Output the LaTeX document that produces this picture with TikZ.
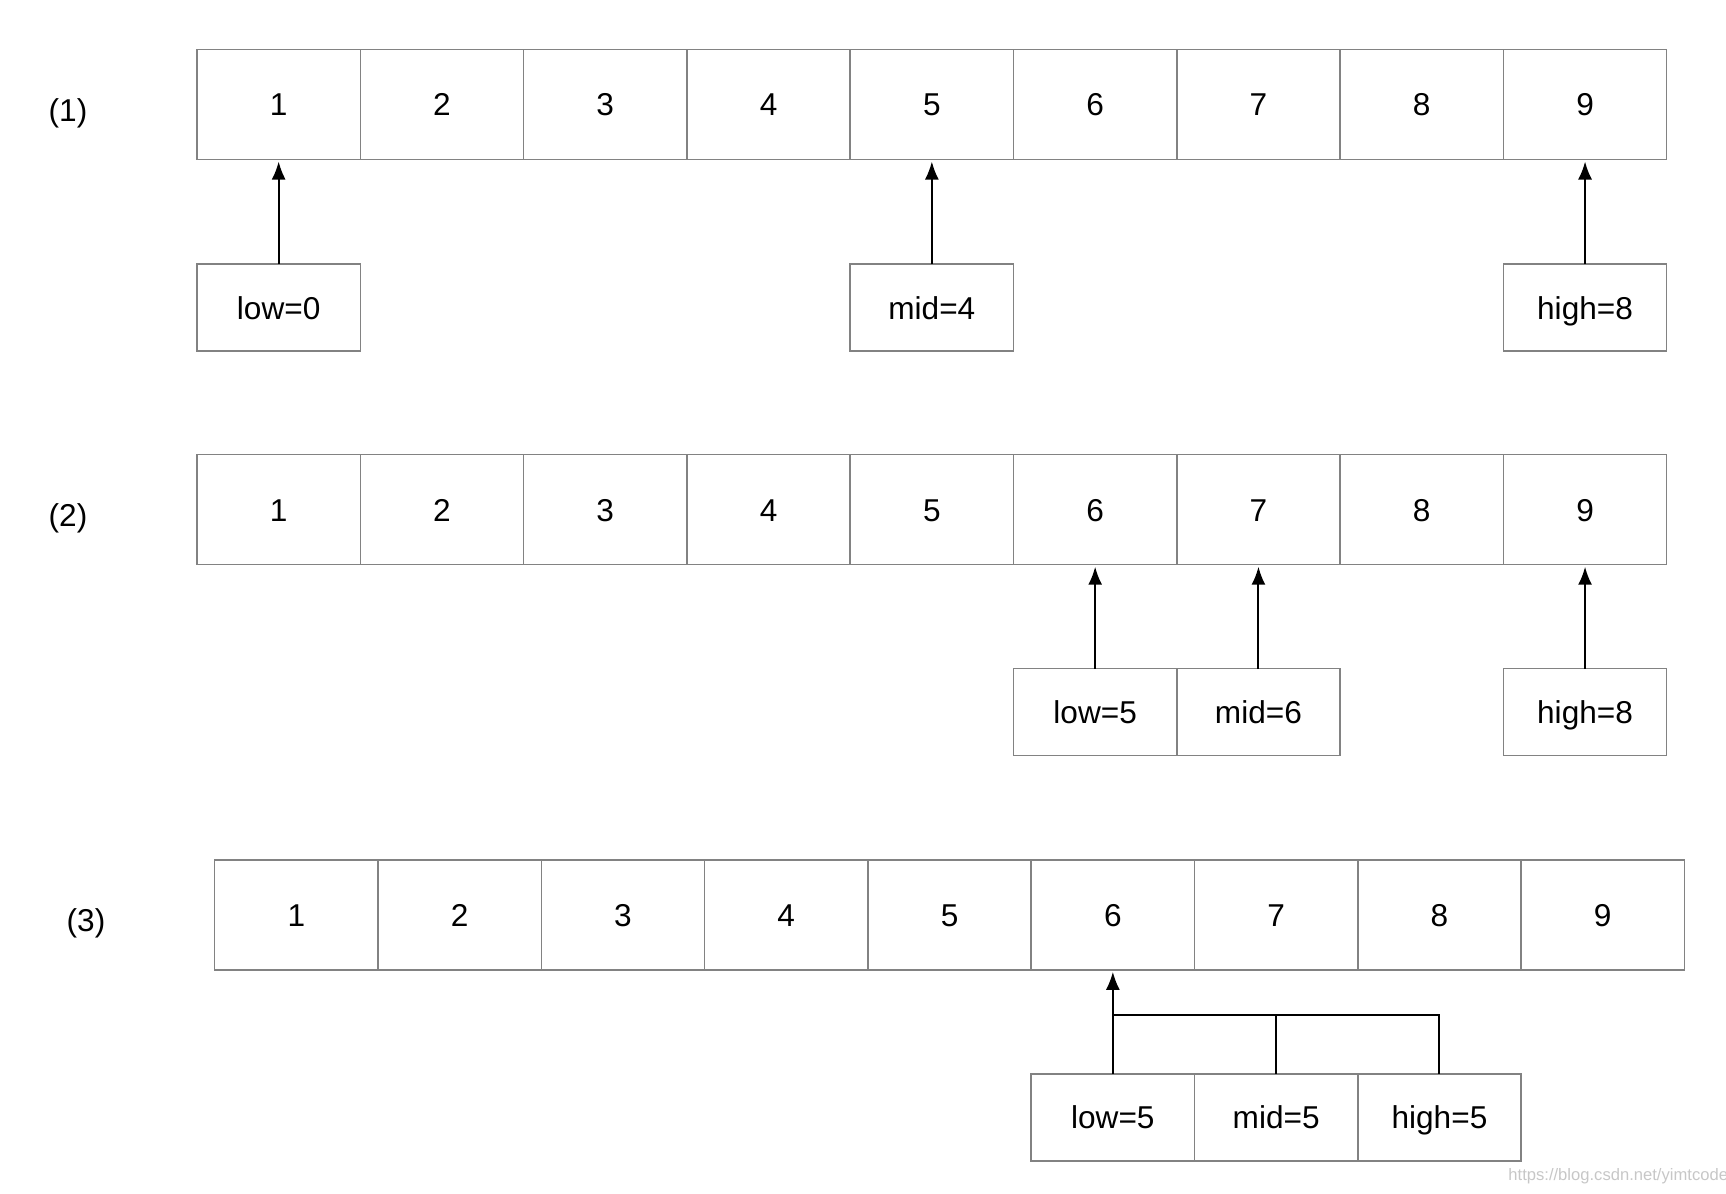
\documentclass[tikz,border=0pt]{standalone}
\usepackage{fontspec}
\setmainfont{Liberation Sans}
\usetikzlibrary{arrows.meta}
\definecolor{cellgray}{HTML}{828282}
\begin{document}
\begin{tikzpicture}[x=0.5pt,y=-0.5pt,
  txt/.style={font=\fontsize{15.8}{18}\selectfont,text height=11.3pt,text depth=0pt},
  cell/.style={txt,draw=cellgray,line width=0.75pt,minimum width=81.65pt,minimum height=55pt,inner sep=0pt,outer sep=0pt},
  ptr/.style={txt,draw=cellgray,line width=0.75pt,minimum width=81.65pt,minimum height=43.5pt,inner sep=0pt,outer sep=0pt},
  arr/.style={-{Latex[length=9pt,width=7pt]},line width=1pt,black,shorten >=1pt},
  bus/.style={line width=1pt,black}]
\useasboundingbox (0,0) rectangle (1726,1194);
% row 1
\node[txt] (r1) at (68,110) {(1)};
\foreach \i in {1,...,9} \node[cell] (a\i) at ({197+(\i-0.5)*163.3},104.5) {\i};
\node[ptr] (l1) at ({197+0.5*163.3},307.7) {low=0};
\node[ptr] (m1) at ({197+4.5*163.3},307.7) {mid=4};
\node[ptr] (h1) at ({197+8.5*163.3},307.7) {high=8};
\draw[arr] (l1.north) -- (a1.south);
\draw[arr] (m1.north) -- (a5.south);
\draw[arr] (h1.north) -- (a9.south);
% row 2
\node[txt] (r2) at (68,515) {(2)};
\foreach \i in {1,...,9} \node[cell] (b\i) at ({197+(\i-0.5)*163.3},509.7) {\i};
\node[ptr] (l2) at ({197+5.5*163.3},712.2) {low=5};
\node[ptr] (m2) at ({197+6.5*163.3},712.2) {mid=6};
\node[ptr] (h2) at ({197+8.5*163.3},712.2) {high=8};
\draw[arr] (l2.north) -- (b6.south);
\draw[arr] (m2.north) -- (b7.south);
\draw[arr] (h2.north) -- (b9.south);
% row 3
\node[txt] (r3) at (86,920) {(3)};
\foreach \i in {1,...,9} \node[cell] (c\i) at ({214.7+(\i-0.5)*163.3},914.8) {\i};
\node[ptr] (l3) at ({214.7+5.5*163.3},1117.3) {low=5};
\node[ptr] (m3) at ({214.7+6.5*163.3},1117.3) {mid=5};
\node[ptr] (h3) at ({214.7+7.5*163.3},1117.3) {high=5};
\coordinate (busl) at (l3.north |- 0,1015);
\draw[arr] (l3.north) -- (c6.south);
\draw[bus] (h3.north) |- (busl);
\draw[bus] (m3.north) -- (m3.north |- busl);
% watermark
\node[font=\fontsize{8.3}{9}\selectfont,text=black!22,anchor=west,inner sep=0pt] (wm) at (1508,1176) {https://blog.csdn.net/yimtcode};
\end{tikzpicture}
\end{document}
